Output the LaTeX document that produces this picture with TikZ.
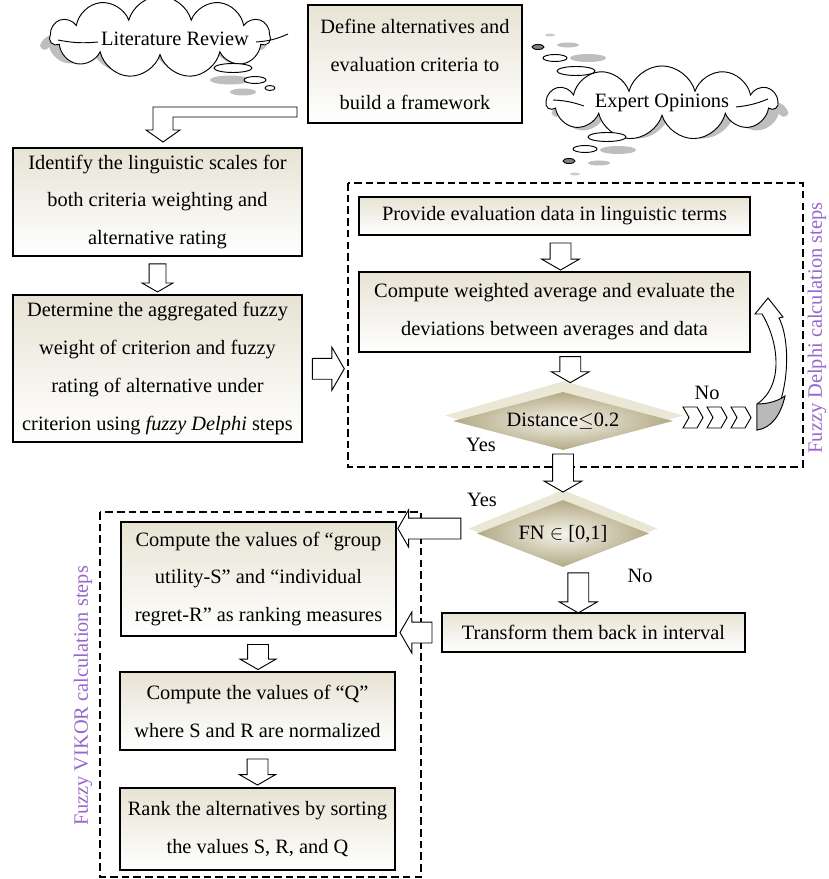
\documentclass[tikz,border=0pt]{standalone}
\usepackage{fontspec}
\setmainfont{Liberation Serif}
\usepackage{tikz}
\usetikzlibrary{shapes.geometric, shapes.arrows, shapes.symbols, calc}

\definecolor{boxtop}{RGB}{231,227,212}
\definecolor{khaki}{RGB}{178,169,132}
\definecolor{diamondlight}{RGB}{246,244,236}
\definecolor{bevelleft}{RGB}{234,231,213}
\definecolor{stepviolet}{RGB}{153,102,204}
\definecolor{shadowgray}{RGB}{190,190,190}

\tikzset{
	stepbox/.style={draw, line width=0.9pt, top color=boxtop, bottom color=white, inner sep=0pt, align=center, font=\fontsize{17.4}{32.4}\selectfont},
	decision/.style={diamond, aspect=3.6, inner sep=0pt, inner color=diamondlight, outer color=khaki, font=\fontsize{17.4}{20}\selectfont},
	bevel/.style={diamond, aspect=3.3, inner sep=0pt, fill=bevelleft},
	blockarrow/.style={single arrow, draw, fill=white, line width=0.8pt, inner xsep=0pt, inner ysep=0.3cm, single arrow tip angle=120},
	puffs/.style={cloud, cloud puffs=11, aspect=5.5, inner sep=0pt},
	thought/.style={puffs, draw, line width=0.8pt, fill=white, font=\fontsize{17.4}{20}\selectfont},
	bubble/.style={draw, line width=0.8pt, fill=white},
	frame/.style={line width=0.9pt, dash pattern=on 6.5pt off 3.5pt},
	sidelabel/.style={text=stepviolet, font=\fontsize{17.4}{20}\selectfont},
	answer/.style={font=\fontsize{17.4}{20}\selectfont}
}

\begin{document}
\begin{tikzpicture}[x=0.03cm, y=-0.03cm]
	\useasboundingbox (0,0) rectangle (828,879);

	% thought clouds
	\node[puffs, fill=shadowgray, minimum width=6.6cm, minimum height=1.6cm] (litshadow) at (153,46) {};
	\node[thought, minimum width=6.6cm, minimum height=1.6cm] (litrev) at (160,37) {\phantom{Literature Review}};
	\node[font=\fontsize{17.4}{20}\selectfont] (littext) at (175,39) {Literature Review};
	\draw[line width=0.8pt] (58,40) to[bend right=8] (98,42);
	\draw[line width=0.8pt] (256,42) to[bend right=10] (288,34);
	\fill[shadowgray] (230,80) ellipse[x radius=20, y radius=4.5];
	\fill[shadowgray] (243,92) ellipse[x radius=13, y radius=3.5];
	\draw[bubble] (233,68) ellipse[x radius=19, y radius=4.5];
	\draw[bubble] (255,80) ellipse[x radius=11, y radius=3.5];
	\draw[bubble] (270,88) ellipse[x radius=5, y radius=2.5];

	\node[puffs, fill=shadowgray, minimum width=6.9cm, minimum height=1.6cm] (expshadow) at (670,113) {};
	\node[thought, minimum width=6.9cm, minimum height=1.6cm] (expert) at (662,103) {Expert Opinions};
	\draw[line width=0.8pt] (553,100) to[bend left=8] (584,106);
	\draw[line width=0.8pt] (736,107) to[bend right=8] (768,99);
	\fill[gray!40] (550,35) ellipse[x radius=5, y radius=1.5];
	\fill[gray!50] (568,45) ellipse[x radius=11, y radius=2.5];
	\fill[shadowgray] (588,58) ellipse[x radius=18, y radius=4];
	\draw[bubble, fill=gray] (538,47) ellipse[x radius=6, y radius=2.5];
	\draw[bubble] (555,58) ellipse[x radius=12, y radius=3.5];
	\draw[bubble] (576,71) ellipse[x radius=19, y radius=4.5];
	\fill[shadowgray] (618,150) ellipse[x radius=18, y radius=4];
	\fill[gray!50] (599,163) ellipse[x radius=11, y radius=2.5];
	\fill[gray!40] (575,174) ellipse[x radius=5, y radius=1.5];
	\draw[bubble] (607,137) ellipse[x radius=19, y radius=4.5];
	\draw[bubble] (585,149) ellipse[x radius=12, y radius=3.5];
	\draw[bubble, fill=gray] (569,161) ellipse[x radius=6, y radius=2.5];

	% dashed groups
	\draw[frame] (348,183) rectangle (803,467);
	\draw[frame] (100,512) rectangle (421,877);
	\node[sidelabel, rotate=90] (delphilbl) at (817,328) {Fuzzy Delphi calculation steps};
	\node[sidelabel, rotate=90] (vikorlbl) at (83,696) {Fuzzy VIKOR calculation steps};

	% steps
	\node[stepbox, minimum width=6.42cm, minimum height=3.54cm] (define) at (415,64) {Define alternatives and\\evaluation criteria to\\build a framework};
	\node[stepbox, minimum width=8.67cm, minimum height=3.24cm] (ident) at (157.5,202) {Identify the linguistic scales for\\both criteria weighting and\\alternative rating};
	\node[stepbox, minimum width=8.67cm, minimum height=4.41cm] (determ) at (157.5,368.5) {Determine the aggregated fuzzy\\weight of criterion and fuzzy\\rating of alternative under\\criterion using \textit{fuzzy Delphi} steps};
	\node[stepbox, minimum width=11.73cm, minimum height=1.14cm] (provide) at (554.5,216) {Provide evaluation data in linguistic terms};
	\node[stepbox, minimum width=11.73cm, minimum height=2.4cm] (weighted) at (554.5,312) {Compute weighted average and evaluate the\\deviations between averages and data};
	\node[stepbox, minimum width=9.09cm, minimum height=1.17cm] (transform) at (593.5,632.5) {Transform them back in interval};
	\node[stepbox, minimum width=8.25cm, minimum height=3.42cm] (utility) at (258.5,579) {Compute the values of “group\\utility-S” and “individual\\regret-R” as ranking measures};
	\node[stepbox, minimum width=8.25cm, minimum height=2.34cm] (qvalue) at (257.5,711) {Compute the values of “Q”\\where S and R are normalized};
	\node[stepbox, minimum width=8.25cm, minimum height=2.46cm] (rank) at (257.5,829) {Rank the alternatives by sorting\\the values S, R, and Q};

	% decisions
	\node[bevel, minimum width=7.14cm, minimum height=2.07cm] (distbevel) at (564,415.5) {};
	\node[decision, minimum width=6.6cm, minimum height=1.74cm] (dist) at (563,421) {Distance$\leq$0.2};
	\node[bevel, minimum width=5.67cm, minimum height=2.31cm] (fnbevel) at (563,528.5) {};
	\node[decision, minimum width=5.16cm, minimum height=2.01cm] (fn) at (563,533.5) {FN $\in$ [0,1]};
	\node[answer] (distno) at (707,393) {No};
	\node[answer] (distyes) at (481,445) {Yes};
	\node[answer] (fnyes) at (482,500) {Yes};
	\node[answer] (fnno) at (640,576) {No};

	% block arrows
	\draw[fill=white, line width=0.8pt] (297,107) -- (153,107) -- (153,130) -- (146,130) -- (163,142) -- (180,130) -- (173,130) -- (173,117) -- (297,117) -- cycle;
	\node[blockarrow, rotate=-90, minimum height=0.84cm, inner ysep=0.24cm, single arrow head extend=0.21cm] (a1) at ($(ident.south)!.5!(determ.north)$) {};
	\node[blockarrow, minimum height=0.96cm, single arrow head extend=0.33cm] (a2) at ($(determ.east)!.5!(348,369)$) {};
	\node[blockarrow, rotate=-90, minimum height=0.81cm, single arrow head extend=0.255cm] (a3) at ($(provide.south)!.5!(weighted.north)+(6,0)$) {};
	\node[blockarrow, rotate=-90, minimum height=0.78cm, single arrow head extend=0.255cm] (a4) at ($(weighted.south)!.5!(distbevel.north)+(11,0)$) {};
	\node[blockarrow, rotate=-90, minimum height=1.14cm, single arrow head extend=0.255cm] (a5) at ($(dist.south)!.5!(fnbevel.north)$) {};
	\node[blockarrow, rotate=-90, minimum height=1.2cm, single arrow head extend=0.255cm] (a6) at ($(fn.south)!.5!(transform.north)$) {};
	\node[blockarrow, rotate=180, minimum height=1.89cm, single arrow head extend=0.24cm] (a7) at ($(fnbevel.west)!.5!(utility.east |- fnbevel.west)$) {};
	\node[blockarrow, rotate=180, minimum height=0.96cm, single arrow head extend=0.3cm] (a8) at ($(transform.west)!.5!(utility.east |- transform.west)$) {};
	\node[blockarrow, rotate=-90, minimum height=0.75cm, single arrow head extend=0.225cm] (a9) at ($(utility.south)!.5!(qvalue.north)$) {};
	\node[blockarrow, rotate=-90, minimum height=0.78cm, single arrow head extend=0.225cm] (a10) at ($(qvalue.south)!.5!(rank.north)$) {};

	% loop back
	\foreach \x in {683,707,731}
		\draw[fill=white, line width=0.8pt] (\x,407) -- ++(14,0) -- ++(6,10.5) -- ++(-6,10.5) -- ++(-14,0) -- ++(6,-10.5) -- cycle;
	\draw[fill=white, line width=0.8pt] (757,430) .. controls (785,425) and (795,350) .. (779,318) -- (783,317) -- (768,298) -- (755,314) -- (762,314) .. controls (778,340) and (785,385) .. (757,404) -- cycle;
	\draw[fill=gray!55, line width=0.8pt] (757,404) -- (757,430) .. controls (772,428) and (781,414) .. (785,396) .. controls (778,401) and (768,404) .. (757,404) -- cycle;
\end{tikzpicture}
\end{document}
